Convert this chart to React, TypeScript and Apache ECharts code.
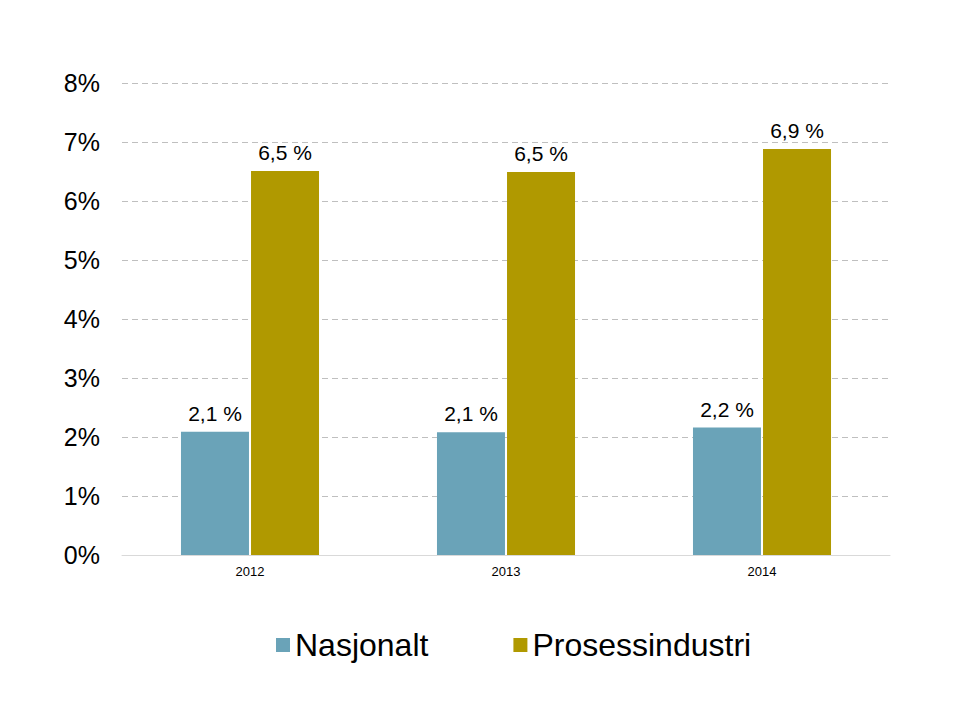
import React, { useEffect, useRef } from "react";
import * as echarts from "echarts";

const categories = ["2012", "2013", "2014"];
const nasjonalt = [2.09, 2.08, 2.16];
const prosessindustri = [6.51, 6.49, 6.88];
const yTicks = [0, 1, 2, 3, 4, 5, 6, 7, 8];

const fmt = (v: number) => v.toFixed(1).replace(".", ",") + " %";

export default function App() {
  const ref = useRef<HTMLDivElement>(null);
  useEffect(() => {
    const chart = echarts.init(ref.current!, null, { renderer: "svg" });
    const font = "'Liberation Sans', Arial, sans-serif";
    const label = {
      show: true,
      position: "top",
      distance: 8,
      fontSize: 21,
      color: "#000",
      fontFamily: font,
      formatter: (p: any) => fmt(p.value),
    };
    chart.setOption({
      animation: false,
      backgroundColor: "#ffffff",
      textStyle: { fontFamily: font },
      grid: { left: 122, right: 70, top: 83, bottom: 165 },
      legend: {
        top: 624,
        left: 271,
        itemWidth: 14,
        itemHeight: 14,
        itemGap: 85,
        icon: "rect",
        textStyle: { fontSize: 32, color: "#000", fontFamily: font },
        data: ["Nasjonalt", "Prosessindustri"],
      },
      xAxis: {
        type: "category",
        data: categories,
        axisLine: { lineStyle: { color: "#d9d9d9" } },
        axisTick: { show: false },
        axisLabel: { color: "#000", fontSize: 13, margin: 10, fontFamily: font },
      },
      yAxis: {
        type: "value",
        min: yTicks[0],
        max: yTicks[yTicks.length - 1],
        interval: 1,
        axisLine: { show: false },
        axisTick: { show: false },
        axisLabel: { color: "#000", fontSize: 25, margin: 22, formatter: (v: number) => v + "%", fontFamily: font },
        splitLine: { lineStyle: { color: "#bfbfbf", type: [6, 4] } },
      },
      series: [
        {
          name: "Nasjonalt",
          type: "bar",
          data: nasjonalt,
          barWidth: 68,
          barGap: "3%",
          itemStyle: { color: "#6aa3b8" },
          label,
        },
        {
          name: "Prosessindustri",
          type: "bar",
          data: prosessindustri,
          barWidth: 68,
          barGap: "3%",
          itemStyle: { color: "#b09900" },
          label,
        },
      ],
    });
    return () => chart.dispose();
  }, []);
  return <div ref={ref} style={{ width: 960, height: 720, position: "absolute", left: 0, top: 0 }} />;
}
